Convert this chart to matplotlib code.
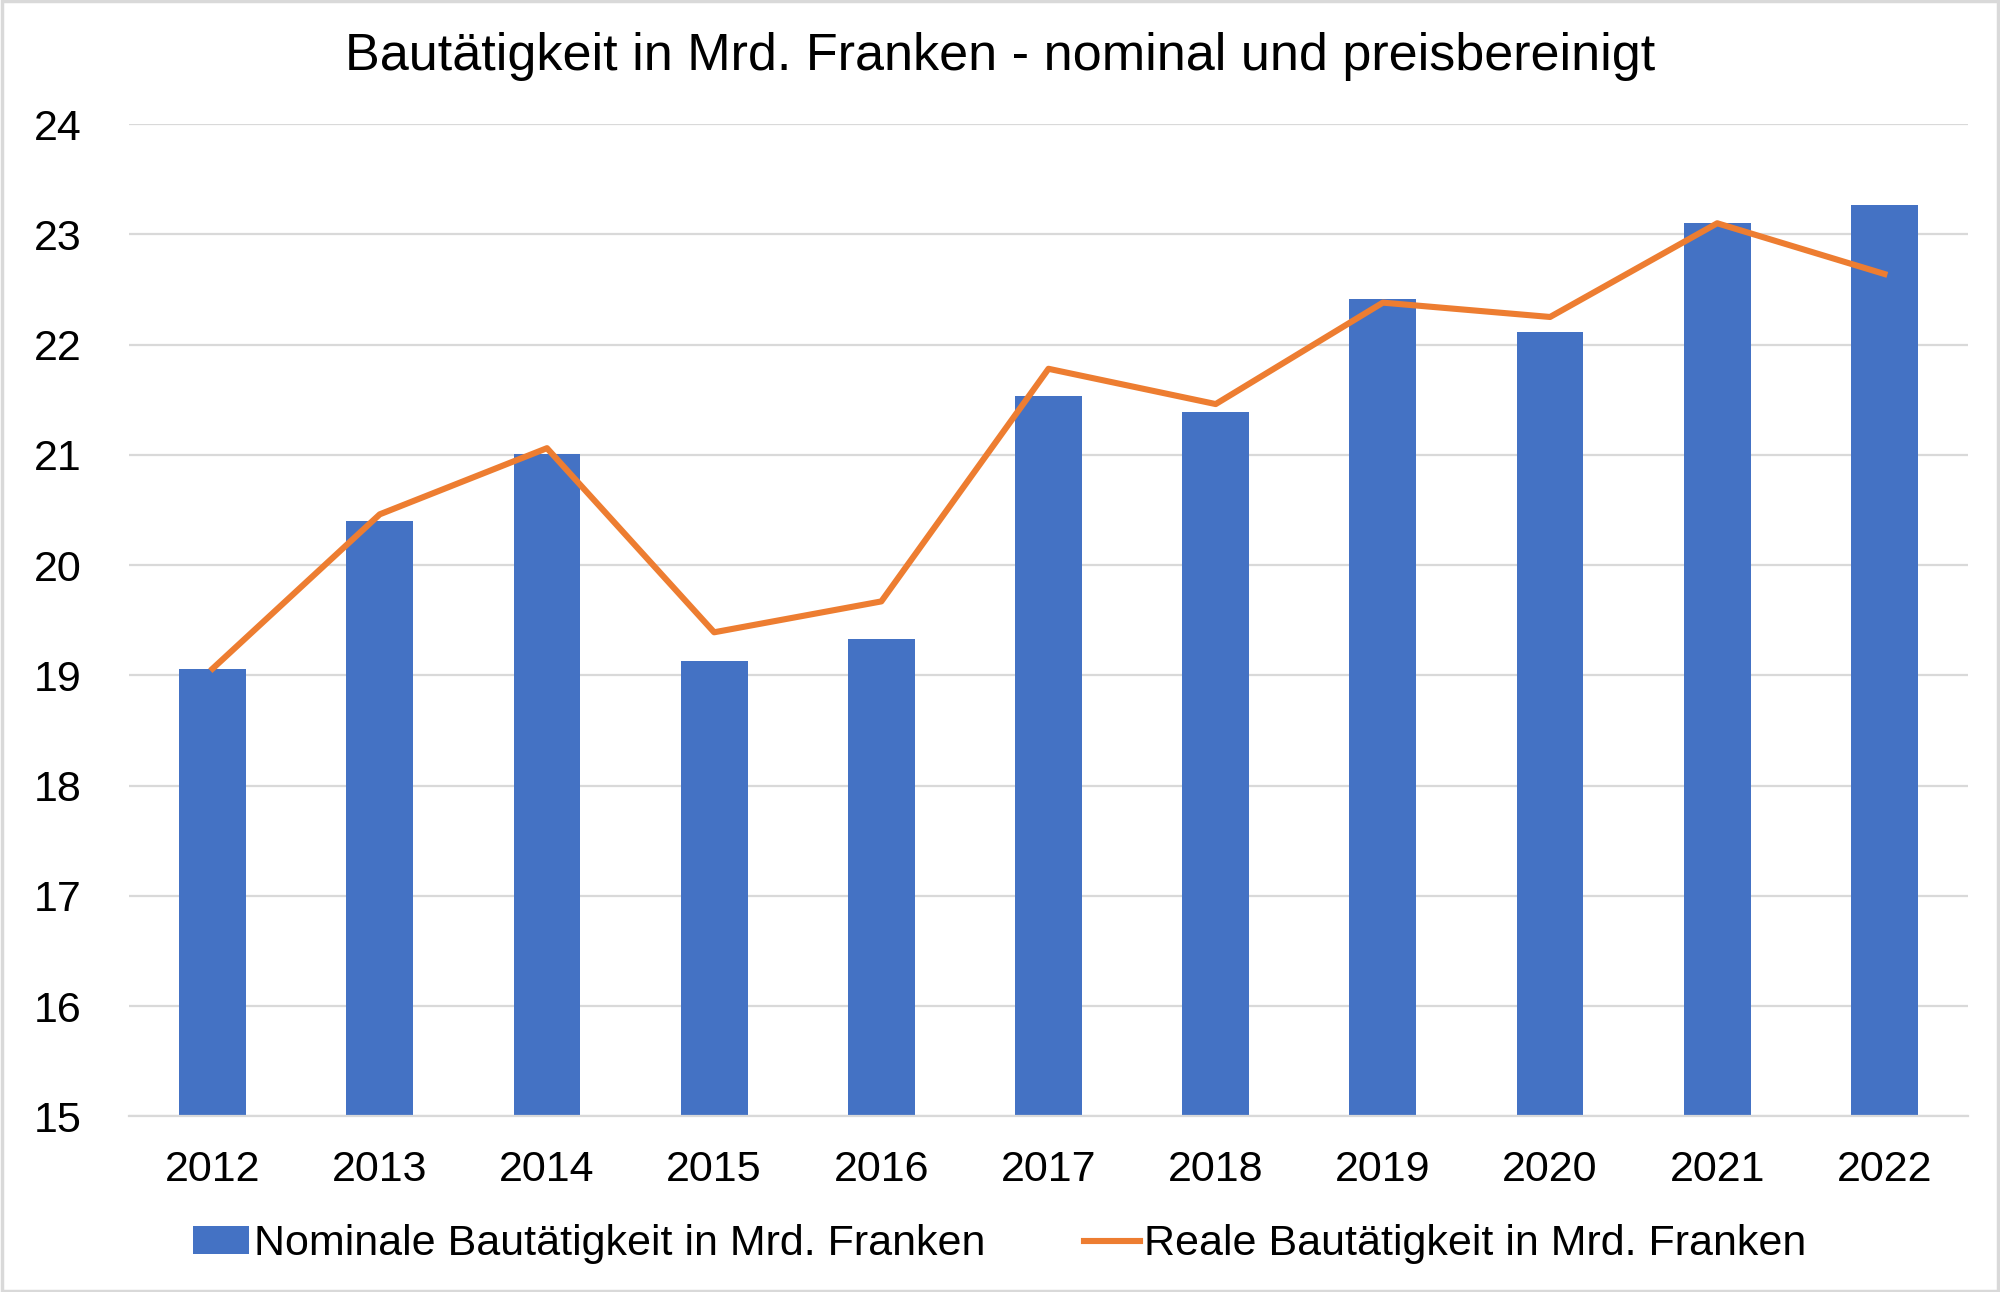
import numpy as np
import matplotlib
matplotlib.use('Agg')
import matplotlib.pyplot as plt
from matplotlib.patches import Rectangle

plt.rcParams['font.family'] = ['Liberation Sans', 'DejaVu Sans']

# =====================================
# Data
# =====================================
years = ['2012', '2013', '2014', '2015', '2016', '2017',
         '2018', '2019', '2020', '2021', '2022']
nominal = [19.06, 20.40, 21.01, 19.13, 19.33, 21.53,
           21.39, 22.41, 22.11, 23.10, 23.27]
real = [19.06, 20.46, 21.06, 19.39, 19.67, 21.78,
        21.46, 22.38, 22.25, 23.10, 22.64]

title = 'Bautätigkeit in Mrd. Franken - nominal und preisbereinigt'
lbl_nom = 'Nominale Bautätigkeit in Mrd. Franken'
lbl_real = 'Reale Bautätigkeit in Mrd. Franken'

blue = '#4472C4'
orange = '#ED7D31'
grid_col = '#D9D9D9'

# =====================================
# Plot
# =====================================
fig = plt.figure(figsize=(20, 12.92), dpi=100)
ax = fig.add_axes([0.0645, 0.136, 0.9195, 0.768])

x = np.arange(len(years))
bars = ax.bar(x, nominal, width=0.4, color=blue, label=lbl_nom, zorder=2)
line, = ax.plot(x, real, color=orange, lw=4.4, label=lbl_real, zorder=3)

ax.set_xlim(-0.5, len(years) - 0.5)
ax.set_ylim(15, 24)
ax.set_yticks(np.arange(15, 25, 1))
ax.set_xticks(x)
ax.set_xticklabels(years)

ax.grid(axis='y', color=grid_col, lw=1.6, zorder=0)
ax.set_axisbelow(True)
for s in ['top', 'left', 'right']:
    ax.spines[s].set_visible(False)
ax.spines['bottom'].set_color(grid_col)
ax.spines['bottom'].set_linewidth(1.6)

ax.tick_params(axis='both', length=0, labelsize=31)
ax.tick_params(axis='y', pad=34)
ax.tick_params(axis='x', pad=24)

fig.text(0.5, 0.956, title, ha='center', va='center', fontsize=37.5)

fig.legend([bars, line], [lbl_nom, lbl_real], loc='center',
           bbox_to_anchor=(0.5, 0.037), ncol=2,
           frameon=False, fontsize=31, handlelength=1.3, handleheight=0.6,
           handletextpad=0.1, columnspacing=2.3)

# light border around the figure
fig.patches.append(Rectangle((0.001, 0.001), 0.998, 0.998, transform=fig.transFigure,
                             fill=False, edgecolor=grid_col, lw=2.5))

fig.savefig('out.png', dpi=100)
